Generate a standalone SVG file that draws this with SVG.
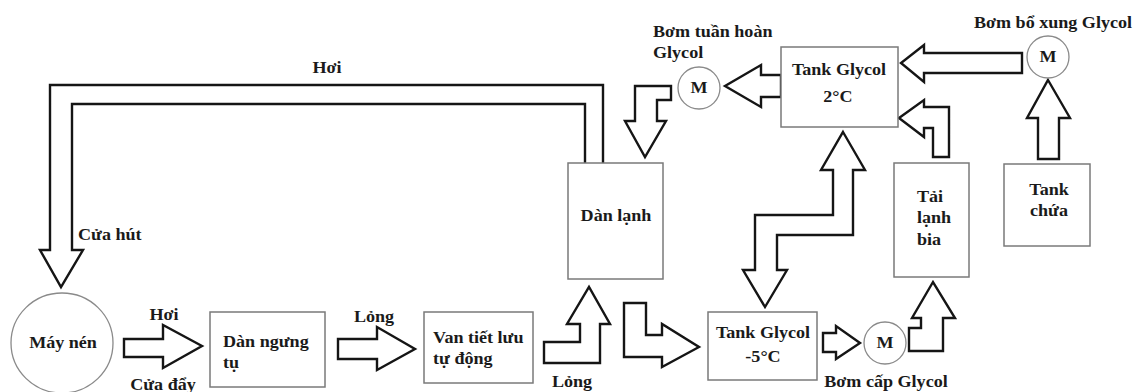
<svg xmlns="http://www.w3.org/2000/svg" width="1144" height="392" viewBox="0 0 1144 392">
<style>
.bx{fill:#fff;stroke:#7a7a7a;stroke-width:1.5}
.pm{fill:#fff;stroke:#8a8a8a;stroke-width:1.3}
.ar{fill:#fff;stroke:#151515;stroke-width:2.4;stroke-linejoin:miter}
text{font-family:"Liberation Serif","Times New Roman",serif;font-weight:bold;font-size:16px;fill:#1a1a1a}
.c{text-anchor:middle}
</style>
<rect width="1144" height="392" fill="#fff"/>
<g id="connectors">
  <path class="ar" d="M585,163 L585,104 L72,104 L72,250 L83,250 L61,287 L40,250 L50,250 L50,85 L603,85 L603,163"/>
  <polygon class="ar" points="124,339 163,339 163,325 202,346 163,368 163,357 124,357"/>
  <polygon class="ar" points="338,339 377,339 377,327 415,349 377,370 377,359 338,359"/>
  <polygon class="ar" points="544,342 580,342 580,324 567,324 589,287 610,324 600,324 600,363 544,363"/>
  <polygon class="ar" points="624,303 646,303 646,335 662,335 662,324 699,347 662,367 662,357 624,357"/>
  <polygon class="ar" points="843,132 865,170 853,170 853,235 777,235 777,270 787,270 765,307 743,270 755,270 755,215 833,215 833,170 821,170"/>
  <polygon class="ar" points="781,75 761,75 761,65 725,86 761,107 761,97 781,97"/>
  <polygon class="ar" points="635,86 671,86 671,100 657,100 657,121 666,121 645,157 625,121 635,121"/>
  <polygon class="ar" points="1022,53 924,53 924,45 901,63 924,82 924,73 1022,73"/>
  <polygon class="ar" points="1048,80 1070,118 1059,118 1059,159 1038,159 1038,118 1027,118"/>
  <polygon class="ar" points="899,118 924,100 924,107 949,107 949,157 933,157 933,128 924,128 924,137"/>
  <polygon class="ar" points="823,333 836,333 836,326 860,343 836,359 836,352 823,352"/>
  <polygon class="ar" points="909,328 921,328 921,318 912,318 933,282 955,318 943,318 943,351 909,351"/>
  <text class="c" transform="matrix(1.13 0 0 1 327 73)">Hơi</text>
  <text transform="matrix(1.13 0 0 1 78 240)">Cửa hút</text>
  <text class="c" transform="matrix(1.13 0 0 1 164 320)">Hơi</text>
  <text class="c" transform="matrix(1.13 0 0 1 163 390)">Cửa đẩy</text>
  <text class="c" transform="matrix(1.13 0 0 1 374 322)">Lỏng</text>
  <text class="c" transform="matrix(1.13 0 0 1 572 387)">Lỏng</text>
</g>
<g id="may-nen">
  <ellipse class="pm" cx="62" cy="343" rx="51" ry="50"/>
  <text class="c" transform="matrix(1.13 0 0 1 63 348)">Máy nén</text>
</g>
<g id="dan-ngung-tu">
  <rect class="bx" x="210" y="312" width="115" height="75"/>
  <text transform="matrix(1.13 0 0 1 223 347)">Dàn ngưng</text>
  <text transform="matrix(1.13 0 0 1 223 368)">tụ</text>
</g>
<g id="van-tiet-luu">
  <rect class="bx" x="424" y="312" width="109" height="71"/>
  <text transform="matrix(1.13 0 0 1 433 343)">Van tiết lưu</text>
  <text transform="matrix(1.13 0 0 1 433 364)">tự động</text>
</g>
<g id="dan-lanh">
  <rect class="bx" x="568" y="163" width="95" height="116"/>
  <text class="c" transform="matrix(1.13 0 0 1 616 221)">Dàn lạnh</text>
</g>
<g id="tank-glycol-5">
  <rect class="bx" x="708" y="312" width="109" height="68"/>
  <text class="c" transform="matrix(1.13 0 0 1 763 338)">Tank Glycol</text>
  <text class="c" transform="matrix(1.13 0 0 1 763 362)">-5°C</text>
</g>
<g id="tank-glycol-2">
  <rect class="bx" x="781" y="47" width="117" height="80"/>
  <text class="c" transform="matrix(1.13 0 0 1 839 75)">Tank Glycol</text>
  <text class="c" transform="matrix(1.13 0 0 1 838 102)">2°C</text>
</g>
<g id="tai-lanh-bia">
  <rect class="bx" x="894" y="163" width="75" height="114"/>
  <text transform="matrix(1.13 0 0 1 917 202)">Tải</text>
  <text transform="matrix(1.13 0 0 1 917 223)">lạnh</text>
  <text transform="matrix(1.13 0 0 1 917 245)">bia</text>
</g>
<g id="tank-chua">
  <rect class="bx" x="1004" y="164" width="86" height="82"/>
  <text class="c" transform="matrix(1.13 0 0 1 1049 195)">Tank</text>
  <text class="c" transform="matrix(1.13 0 0 1 1049 216)">chứa</text>
</g>
<g id="bom-tuan-hoan">
  <circle class="pm" cx="699" cy="88" r="21"/>
  <text class="c" transform="matrix(1.13 0 0 1 699 93)">M</text>
  <text transform="matrix(1.13 0 0 1 653 37)">Bơm tuần hoàn</text>
  <text transform="matrix(1.13 0 0 1 653 58)">Glycol</text>
</g>
<g id="bom-bo-xung">
  <circle class="pm" cx="1048" cy="57" r="21"/>
  <text class="c" transform="matrix(1.13 0 0 1 1048 62)">M</text>
  <text class="c" transform="matrix(1.13 0 0 1 1053 28)">Bơm bổ xung Glycol</text>
</g>
<g id="bom-cap">
  <circle class="pm" cx="885" cy="343" r="21"/>
  <text class="c" transform="matrix(1.13 0 0 1 885 348)">M</text>
  <text class="c" transform="matrix(1.13 0 0 1 886 387)">Bơm cấp Glycol</text>
</g>
</svg>
